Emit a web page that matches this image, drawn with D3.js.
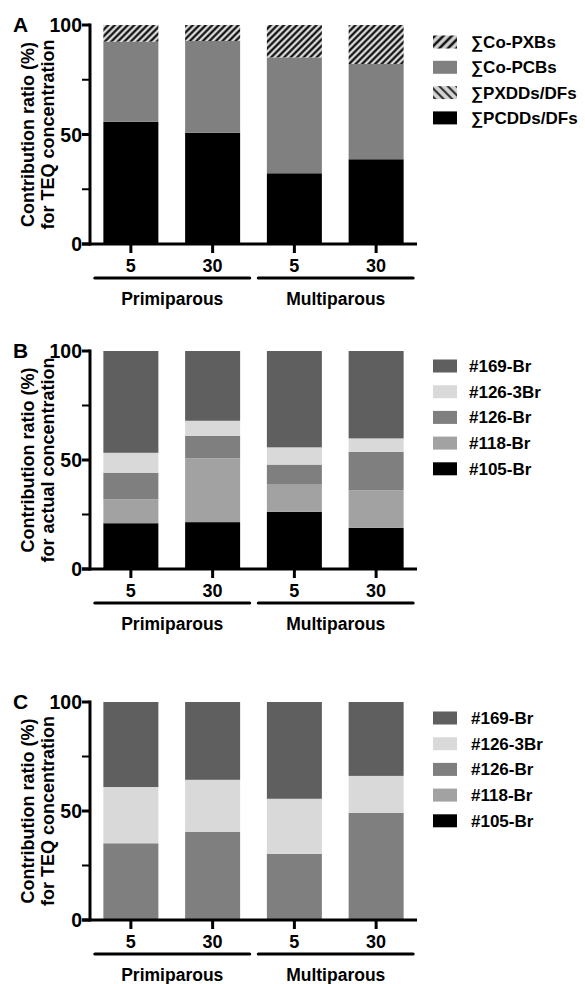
<!DOCTYPE html>
<html>
<head>
<meta charset="utf-8">
<script src="https://cdn.jsdelivr.net/npm/d3@7"></script>
<style>
  body { margin: 0; background: #fff; }
  text { font-family: "Liberation Sans", Arial, sans-serif; font-weight: bold; fill: #000; }
</style>
</head>
<body>
<div id="chart"></div>
<script>
// categories (parity group x lactation period)
const periods = ["5", "30", "5", "30"];
const groups = ["Primiparous", "Multiparous"];
const yTicks = [0, 25, 50, 75, 100];
const yLabels = [0, 50, 100];

// panel A: TEQ, dioxin-like classes (bottom -> top)
const aKeys = ["PCDDs", "PXDDs", "CoPCBs", "CoPXBs"];
const aNames = ["∑PCDDs/DFs", "∑PXDDs/DFs", "∑Co-PCBs", "∑Co-PXBs"];
const aPCDDs = [55.8, 50.8, 32.3, 38.7];
const aPXDDs = [0, 0, 0, 0];
const aCoPCBs = [36.6, 41.9, 52.9, 43.5];
const aCoPXBs = [7.6, 7.3, 14.8, 17.8];

// panels B and C: brominated congeners (bottom -> top)
const brKeys = ["b105", "b118", "b126", "b1263", "b169"];
const brNames = ["#105-Br", "#118-Br", "#126-Br", "#126-3Br", "#169-Br"];
const b105 = [21.0, 21.5, 26.2, 18.9];
const b118 = [11.0, 29.3, 12.5, 17.2];
const b126 = [12.2, 10.3, 9.2, 17.6];
const b1263 = [9.1, 6.9, 7.9, 6.2];
const b169 = [46.7, 32.0, 44.2, 40.1];

const c105 = [0, 0, 0, 0];
const c118 = [0, 0, 0, 0];
const c126 = [35.2, 40.4, 30.3, 49.2];
const c1263 = [25.8, 23.9, 25.3, 16.9];
const c169 = [39.0, 35.7, 44.4, 33.9];

const W = 585, H = 984;
const svg = d3.select("#chart").append("svg")
    .attr("width", W).attr("height", H);

// hatch patterns
const defs = svg.append("defs");
function hatch(id, angle, size, sw, bg, fg) {
    const p = defs.append("pattern")
        .attr("id", id)
        .attr("patternUnits", "userSpaceOnUse")
        .attr("width", size).attr("height", size)
        .attr("patternTransform", `rotate(${angle})`);
    p.append("rect").attr("width", size).attr("height", size).attr("fill", bg);
    p.append("line").attr("x1", size / 2).attr("y1", 0).attr("x2", size / 2).attr("y2", size)
        .attr("stroke", fg).attr("stroke-width", sw);
}
hatch("hPXB", 45, 4.6, 2.1, "#dcdcdc", "#000");
hatch("hPXD", -45, 4.6, 2.1, "#dcdcdc", "#222");
hatch("hPXBleg", 45, 6, 2.6, "#d6d6d6", "#111");
hatch("hPXDleg", -45, 6, 2.2, "#d6d6d6", "#333");

const x = d3.scalePoint().domain(d3.range(periods.length)).range([90, 417]).padding(0.5);
const barW = 55;

function rows(cols, keys) {
    return periods.map((p, i) => {
        const r = { i: i };
        keys.forEach((k, j) => { r[k] = cols[j][i]; });
        return r;
    });
}

function drawPanel(cfg) {
    const g = svg.append("g");
    const y = d3.scaleLinear().domain([0, 100]).range([cfg.y0, cfg.y100]);
    const series = d3.stack().keys(cfg.keys)(rows(cfg.cols, cfg.keys));

    // bars
    g.selectAll("g.layer").data(series).join("g")
        .attr("class", "layer")
        .attr("fill", d => cfg.fills[d.key])
        .selectAll("rect").data(d => d).join("rect")
        .attr("x", d => x(d.data.i) - barW / 2)
        .attr("width", barW)
        .attr("y", d => y(d[1]))
        .attr("height", d => y(d[0]) - y(d[1]));

    // y axis
    g.append("line").attr("x1", 90).attr("x2", 90)
        .attr("y1", y(100) - 1.5).attr("y2", y(0) + 1.5)
        .attr("stroke", "#000").attr("stroke-width", 3);
    g.selectAll("line.yt").data(yTicks).join("line")
        .attr("class", "yt")
        .attr("x1", 82).attr("x2", 90)
        .attr("y1", d => y(d)).attr("y2", d => y(d))
        .attr("stroke", "#000").attr("stroke-width", d => d % 50 === 0 ? 3 : 2);
    g.selectAll("text.yl").data(yLabels).join("text")
        .attr("class", "yl")
        .attr("x", 82).attr("y", d => y(d) + 7)
        .attr("text-anchor", "end")
        .style("font-size", "19.5px")
        .text(d => d);

    // x axis
    g.append("line").attr("x1", 82).attr("x2", 417)
        .attr("y1", y(0)).attr("y2", y(0))
        .attr("stroke", "#000").attr("stroke-width", 3);
    g.selectAll("line.xt").data(periods).join("line")
        .attr("class", "xt")
        .attr("x1", (d, i) => x(i)).attr("x2", (d, i) => x(i))
        .attr("y1", y(0)).attr("y2", y(0) + 9)
        .attr("stroke", "#000").attr("stroke-width", 3);
    g.selectAll("text.xl").data(periods).join("text")
        .attr("class", "xl")
        .attr("x", (d, i) => x(i)).attr("y", y(0) + 27.5)
        .attr("text-anchor", "middle")
        .style("font-size", "18px")
        .text(d => d);

    // group brackets
    groups.forEach((name, gi) => {
        const a = x(gi * 2) - 36, b = x(gi * 2 + 1) + 37;
        g.append("line").attr("x1", a).attr("x2", b)
            .attr("y1", y(0) + 34).attr("y2", y(0) + 34)
            .attr("stroke", "#000").attr("stroke-width", 3.2)
            .attr("stroke-linecap", "round");
        g.append("text").attr("x", (a + b) / 2).attr("y", y(0) + 61)
            .attr("text-anchor", "middle")
            .style("font-size", "17.5px")
            .text(name);
    });

    // y title
    const my = (y(0) + y(100)) / 2;
    cfg.ytitle.forEach((t, k) => {
        g.append("text")
            .attr("transform", `translate(${34 + k * 20},${my}) rotate(-90)`)
            .attr("text-anchor", "middle")
            .style("font-size", "18px")
            .text(t);
    });

    // panel letter
    g.append("text").attr("x", 13).attr("y", y(100) + 7)
        .style("font-size", "21px").text(cfg.letter);

    // legend (reverse stack order)
    const leg = cfg.keys.map((k, j) => ({ k: k, name: cfg.names[j] })).reverse();
    const lg = g.selectAll("g.leg").data(leg).join("g")
        .attr("class", "leg")
        .attr("transform", (d, i) => `translate(433,${cfg.legY + i * cfg.legStep})`);
    lg.append("rect").attr("x", 0).attr("y", -6.5).attr("width", 24).attr("height", 13)
        .attr("fill", d => cfg.legFills[d.k]);
    lg.append("text").attr("x", cfg.legText).attr("y", 6)
        .style("font-size", "17px")
        .text(d => d.name);
}

const brFill = { b105: "#000", b118: "#a2a2a2", b126: "#7f7f7f", b1263: "#d9d9d9", b169: "#5f5f5f" };

drawPanel({
    letter: "A", y0: 244, y100: 25,
    keys: aKeys, names: aNames,
    cols: [aPCDDs, aPXDDs, aCoPCBs, aCoPXBs],
    fills: { PCDDs: "#000", PXDDs: "url(#hPXD)", CoPCBs: "#808080", CoPXBs: "url(#hPXB)" },
    legFills: { PCDDs: "#000", PXDDs: "url(#hPXDleg)", CoPCBs: "#808080", CoPXBs: "url(#hPXBleg)" },
    ytitle: ["Contribution ratio (%)", "for TEQ concentration"],
    legY: 42, legStep: 25.3, legText: 38
});

drawPanel({
    letter: "B", y0: 569, y100: 351,
    keys: brKeys, names: brNames,
    cols: [b105, b118, b126, b1263, b169],
    fills: brFill, legFills: brFill,
    ytitle: ["Contribution ratio (%)", "for actual concentration"],
    legY: 366, legStep: 25.7, legText: 36
});

drawPanel({
    letter: "C", y0: 920, y100: 702,
    keys: brKeys, names: brNames,
    cols: [c105, c118, c126, c1263, c169],
    fills: brFill, legFills: brFill,
    ytitle: ["Contribution ratio (%)", "for TEQ concentration"],
    legY: 718, legStep: 25.7, legText: 38
});
</script>
</body>
</html>
